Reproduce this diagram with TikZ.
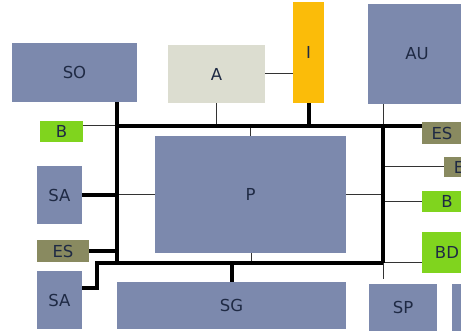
\documentclass[tikz,border=0pt]{standalone}
\usepackage{fontspec}
\setmainfont{DejaVu Sans}
\definecolor{bluebox}{HTML}{7C89AD}
\definecolor{greenbox}{HTML}{80D41E}
\definecolor{olivebox}{HTML}{898A60}
\definecolor{palebox}{HTML}{DCDDD0}
\definecolor{yellowbox}{HTML}{FBBC09}
\definecolor{txt}{HTML}{1F2A44}
\begin{document}
\begin{tikzpicture}[x=1pt,y=-1pt,
  box/.style={inner sep=0pt,text=txt,font=\fontsize{16.5}{17}\selectfont},
  thick bus/.style={line width=4pt,black},
  thin link/.style={line width=1pt,black!80},
  bx/.style={fill=bluebox},
  gx/.style={fill=greenbox},
  ox/.style={fill=olivebox},
]
\useasboundingbox (0,0) rectangle (461,331);
\clip (0,0) rectangle (461,331);
\fill[white] (0,0) rectangle (461,331);
% boxes
\path[bx] (12,43) rectangle (137,102);
\node[box,minimum width=125pt,minimum height=59pt] (SO) at (74.5,72.5) {SO};
\path[fill=palebox] (168,45) rectangle (265,103);
\node[box,minimum width=97pt,minimum height=58pt] (A) at (216.5,74) {A};
\path[fill=yellowbox] (293,2) rectangle (324,103);
\node[box,minimum width=31pt,minimum height=101pt] (I) at (308.5,52.5) {I};
\path[bx] (368,4) rectangle (466,104);
\node[box,minimum width=98pt,minimum height=100pt] (AU) at (417,54) {AU};
\path[gx] (40,121) rectangle (83,142);
\node[box,minimum width=43pt,minimum height=21pt] (B1) at (61.5,131.5) {B};
\path[ox] (422,122) rectangle (462,144);
\node[box,minimum width=40pt,minimum height=22pt] (ES2) at (442,133) {ES};
\path[bx] (155,136) rectangle (346,253);
\node[box,minimum width=191pt,minimum height=117pt] (P) at (250.5,194.5) {P};
\path[ox] (444,157) rectangle (474,177);
\node[box,minimum width=30pt,minimum height=20pt] (E) at (459,167) {E};
\path[gx] (422,191) rectangle (472,212);
\node[box,minimum width=50pt,minimum height=21pt] (B2) at (447,201.5) {B};
\path[gx] (422,232) rectangle (472,273);
\node[box,minimum width=50pt,minimum height=41pt] (BD) at (447,252.5) {BD};
\path[bx] (37,166) rectangle (82,224);
\node[box,minimum width=45pt,minimum height=58pt] (SA1) at (59.5,195) {SA};
\path[ox] (37,240) rectangle (89,262);
\node[box,minimum width=52pt,minimum height=22pt] (ES1) at (63,251) {ES};
\path[bx] (37,271) rectangle (82,329);
\node[box,minimum width=45pt,minimum height=58pt] (SA2) at (59.5,300) {SA};
\path[bx] (117,282) rectangle (346,329);
\node[box,minimum width=229pt,minimum height=47pt] (SG) at (231.5,305.5) {SG};
\path[bx] (369,284) rectangle (437,340);
\node[box,minimum width=68pt,minimum height=56pt] (SP) at (403,307.5) {SP};
\path[bx] (452,284) rectangle (500,340);
\node[box,minimum width=48pt,minimum height=56pt] (X) at (476,312) {};
% bus coordinates
\coordinate (tl) at (117,126);
\coordinate (tr) at (383,126);
\coordinate (bl) at (117,263);
\coordinate (br) at (383,263);
\coordinate (bend) at (97,263);
% thin links
\draw[thin link] (B1.east |- tl) -- (tl);
\draw[thin link] (A.south) -- (A.south |- tl);
\draw[thin link] (AU.south -| tr) -- (tr);
\draw[thin link] (250,126) -- (P.north -| 250,0);
\draw[thin link] (tl |- P.west) -- (P.west);
\draw[thin link] (P.east) -- (P.east -| tr);
\draw[thin link] (P.south -| 251,0) -- (251,263);
\draw[thin link] (tr |- E.west) -- (E.west);
\draw[thin link] (tr |- B2.west) -- (B2.west);
\draw[thin link] (br) -- (br -| BD.west);
\draw[thin link] (br) -- (SP.north -| br);
\draw[thin link] (A.east) -- (A.east -| I.west);
% thick bus
\draw[thick bus] (SO.south -| tl) -- (bl);
\draw[thick bus] (tl) -- (ES2.west |- tl);
\draw[thick bus] (tr) -- (br);
\draw[thick bus,line join=miter] (SA2.east |- 0,288) -- (97,288) -- (bend) -- (br);
\draw[thick bus] (I.south) -- (I.south |- tl);
\draw[thick bus] (SA1.east) -- (SA1.east -| tl);
\draw[thick bus] (ES1.east) -- (ES1.east -| tl);
\draw[thick bus] (232,263) -- (SG.north -| 232,0);
\end{tikzpicture}
\end{document}
